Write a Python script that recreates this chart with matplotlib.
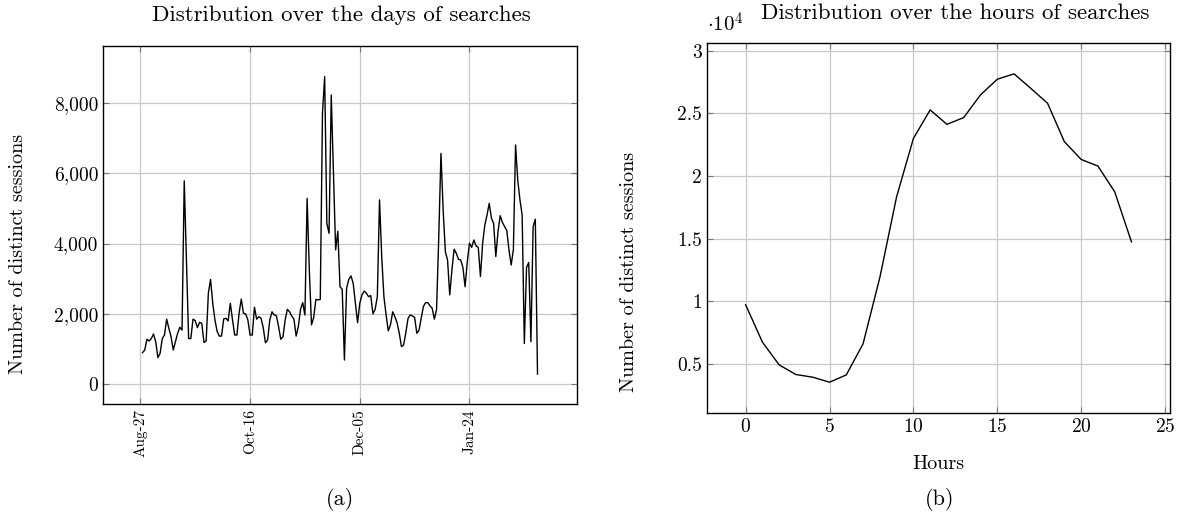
import matplotlib; matplotlib.use("Agg")
import matplotlib.pyplot as plt
import matplotlib.dates as mdates
from matplotlib.ticker import FuncFormatter, MultipleLocator
import pandas as pd

plt.rcParams["font.family"] = "cmr10"
plt.rcParams["mathtext.fontset"] = "cm"
plt.rcParams["axes.formatter.use_mathtext"] = True

# daily distinct sessions, starting Aug-28
day_start = "2017-08-28"
day_sessions = [
    900, 975, 1280, 1230, 1300, 1430, 1210, 760, 880, 1300,
    1400, 1850, 1590, 1350, 975, 1210, 1450, 1620, 1540, 5780,
    3500, 1300, 1300, 1850, 1810, 1610, 1760, 1730, 1190, 1230,
    2590, 2980, 2300, 1830, 1500, 1370, 1370, 1860, 1875, 1800,
    2300, 1830, 1400, 1400, 2020, 2420, 2020, 2000, 1830, 1400,
    1400, 2190, 1850, 1920, 1875, 1610, 1180, 1260, 1830, 2060,
    1970, 1950, 1640, 1280, 1350, 1830, 2130, 2060, 1940, 1850,
    1370, 1640, 2130, 2320, 1970, 5280, 3250, 1690, 1900, 2410,
    2400, 2410, 7700, 8740, 4570, 4290, 8220, 6000, 3820, 4350,
    2770, 2700, 690, 2730, 2980, 3080, 2870, 2300, 1750, 2300,
    2540, 2650, 2590, 2490, 2520, 2000, 2130, 2490, 5240, 3630,
    2490, 1970, 1520, 1690, 2060, 1920, 1750, 1450, 1070, 1120,
    1470, 1875, 1970, 1940, 1900, 1450, 1540, 1875, 2210, 2320,
    2320, 2230, 2160, 1850, 2130, 4200, 6560, 4950, 3770, 3530,
    2540, 3250, 3840, 3720, 3550, 3530, 3320, 2770, 3480, 4010,
    3890, 4100, 3930, 3890, 3060, 4010, 4530, 4810, 5140, 4720,
    4570, 3630, 4340, 4790, 4600, 4480, 4370, 3820, 3390, 3820,
    6800, 5800, 5240, 4810, 1160, 3320, 3460, 1210, 4480, 4690,
    290,
]
day_ticks = ["2017-08-27", "2017-10-16", "2017-12-05", "2018-01-24"]

# sessions per hour of day
hours = list(range(24))
hour_sessions = [
    9730, 6750, 4930, 4160, 3950, 3550, 4130, 6610, 11900, 18350,
    23000, 25280, 24130, 24670, 26480, 27730, 28160, 27000, 25810, 22750,
    21330, 20800, 18750, 14750,
]

fig = plt.figure(figsize=(11.79, 5.26), dpi=100)
fig.patch.set_facecolor("white")

dates = pd.date_range(day_start, periods=len(day_sessions), freq="D")

grid_kw = dict(color="#c8c8c8", lw=0.9)

# (a) days
ax1 = fig.add_axes([0.0874, 0.2319, 0.402, 0.6806])
ax1.plot(dates, day_sessions, color="black", lw=1.0)
t0 = pd.Timestamp("2017-08-27")
ax1.set_xlim(t0 + pd.Timedelta(days=-17), t0 + pd.Timedelta(days=199))
ax1.set_ylim(-560, 9610)
ax1.set_xticks(pd.to_datetime(day_ticks))
ax1.xaxis.set_major_formatter(mdates.DateFormatter("%b-%d"))
ax1.yaxis.set_major_locator(MultipleLocator(2000))
ax1.yaxis.set_major_formatter(FuncFormatter(lambda v, p: f"{v:,.0f}"))
ax1.tick_params(axis="x", labelrotation=90, labelsize=11)
ax1.tick_params(axis="y", labelsize=14)
ax1.set_ylabel("Number of distinct sessions", fontsize=14.5)
ax1.yaxis.set_label_coords(-0.16, 0.42)
fig.text(0.2892, 0.9715, "Distribution over the days of searches",
         ha="center", va="center", fontsize=16.5)
fig.text(0.288, 0.05, "(a)", ha="center", va="center", fontsize=16)

# (b) hours
ax2 = fig.add_axes([0.5997, 0.2148, 0.3927, 0.7034])
ax2.plot(hours, hour_sessions, color="black", lw=1.0)
ax2.set_xlim(-2.3, 25.3)
ax2.set_ylim(1090, 30620)
ax2.xaxis.set_major_locator(MultipleLocator(5))
ax2.yaxis.set_major_locator(MultipleLocator(5000))
ax2.yaxis.set_major_formatter(FuncFormatter(lambda v, p: f"{v / 1e4:g}"))
ax2.tick_params(labelsize=14)
ax2.set_xlabel("Hours", fontsize=14.5, labelpad=14)
ax2.set_ylabel("Number of distinct sessions", fontsize=14.5)
ax2.yaxis.set_label_coords(-0.15, 0.38)
ax2.text(0.0, 1.02, r"$\cdot 10^4$", transform=ax2.transAxes, ha="left",
         va="bottom", fontsize=15)
fig.text(0.81, 0.975, "Distribution over the hours of searches",
         ha="center", va="center", fontsize=16.5)
fig.text(0.797, 0.05, "(b)", ha="center", va="center", fontsize=16)

for ax in (ax1, ax2):
    ax.grid(True, **grid_kw)
    ax.set_axisbelow(True)
    ax.tick_params(direction="in", top=True, right=True, length=4, width=0.8,
                   color="#777777")
    for s in ax.spines.values():
        s.set_linewidth(1.0)

fig.savefig("out.png", dpi=100)
